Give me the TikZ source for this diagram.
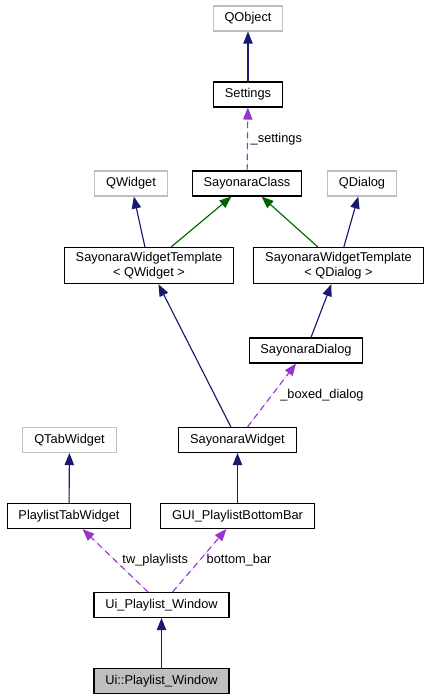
\documentclass[tikz,border=0pt]{standalone}
\usepackage{fontspec}
\setmainfont{Liberation Sans}
\usepackage{xcolor}
\usepackage{tikz}
\usetikzlibrary{arrows.meta,positioning}

\definecolor{navy}{HTML}{191970}
\definecolor{dgreen}{HTML}{006400}
\definecolor{usecol}{HTML}{9A32CD}
\definecolor{extgray}{HTML}{BFBFBF}

\begin{document}
\begin{tikzpicture}[x=0.75pt, y=-0.75pt,
  every node/.style={font=\fontsize{9.6}{11.25}\selectfont},
  cls/.style={draw=black, line width=0.8pt, fill=white, inner xsep=8.5pt, inner ysep=3.5pt, minimum height=18.75pt, align=center},
  ext/.style={cls, draw=extgray},
  inh/.style={-{Triangle[length=9pt,width=7pt]}, line width=0.85pt, draw=navy, fill=navy},
  pubinh/.style={inh, draw=dgreen, fill=dgreen},
  use/.style={-{Triangle[length=9pt,width=7pt]}, line width=0.85pt, draw=usecol, fill=usecol, dash pattern=on 4.5pt off 3.5pt},
  lbl/.style={right, inner sep=2pt, fill=none}]
  \useasboundingbox (0,0) rectangle (437,700);

  % top rows
  \node[ext] (qobject) at (248,18.5) {QObject};
  \node[cls] (settings) at (248,94.5) {Settings};
  \node[ext] (qwidget) at (131,183.5) {QWidget};
  \node[cls] (sclass) at (247,183.5) {SayonaraClass};
  \node[ext] (qdialog) at (362,183.5) {QDialog};

  % templates
  \node[cls] (swtw) at (149,265.5) {SayonaraWidgetTemplate\\< QWidget >};
  \node[cls] (swtd) at (338.5,265.5) {SayonaraWidgetTemplate\\< QDialog >};
  \node[cls] (sdialog) at (306,350.5) {SayonaraDialog};

  % widgets
  \node[ext] (qtab) at (69.5,440) {QTabWidget};
  \node[cls] (swidget) at (237.5,440) {SayonaraWidget};
  \node[cls] (ptab) at (69,516) {PlaylistTabWidget};
  \node[cls] (bbar) at (237.5,516) {GUI\_PlaylistBottomBar};

  % window
  \node[cls] (uiwin) at (161.5,605) {Ui\_Playlist\_Window};
  \node[cls, fill=extgray] (uipw) at (161.5,681) {Ui::Playlist\_Window};

  \draw[inh] (settings) -- (qobject);
  \draw[use] (sclass) -- node[lbl]{\_settings} (settings);
  \draw[inh] (swtw) -- (qwidget);
  \draw[pubinh] (swtw) -- (sclass);
  \draw[pubinh] (swtd) -- (sclass);
  \draw[inh] (swtd) -- (qdialog);
  \draw[inh] (sdialog) -- (swtd);
  \draw[inh] (swidget) -- (swtw);
  \draw[use] (swidget) -- node[lbl, xshift=4pt]{\_boxed\_dialog} (sdialog);
  \draw[inh] (ptab) -- (qtab);
  \draw[inh] (bbar) -- (swidget);
  \draw[use] (uiwin) -- node[lbl, xshift=3pt]{tw\_playlists} (ptab);
  \draw[use] (uiwin) -- node[lbl, xshift=3pt]{bottom\_bar} (bbar);
  \draw[inh] (uipw) -- (uiwin);
\end{tikzpicture}
\end{document}
